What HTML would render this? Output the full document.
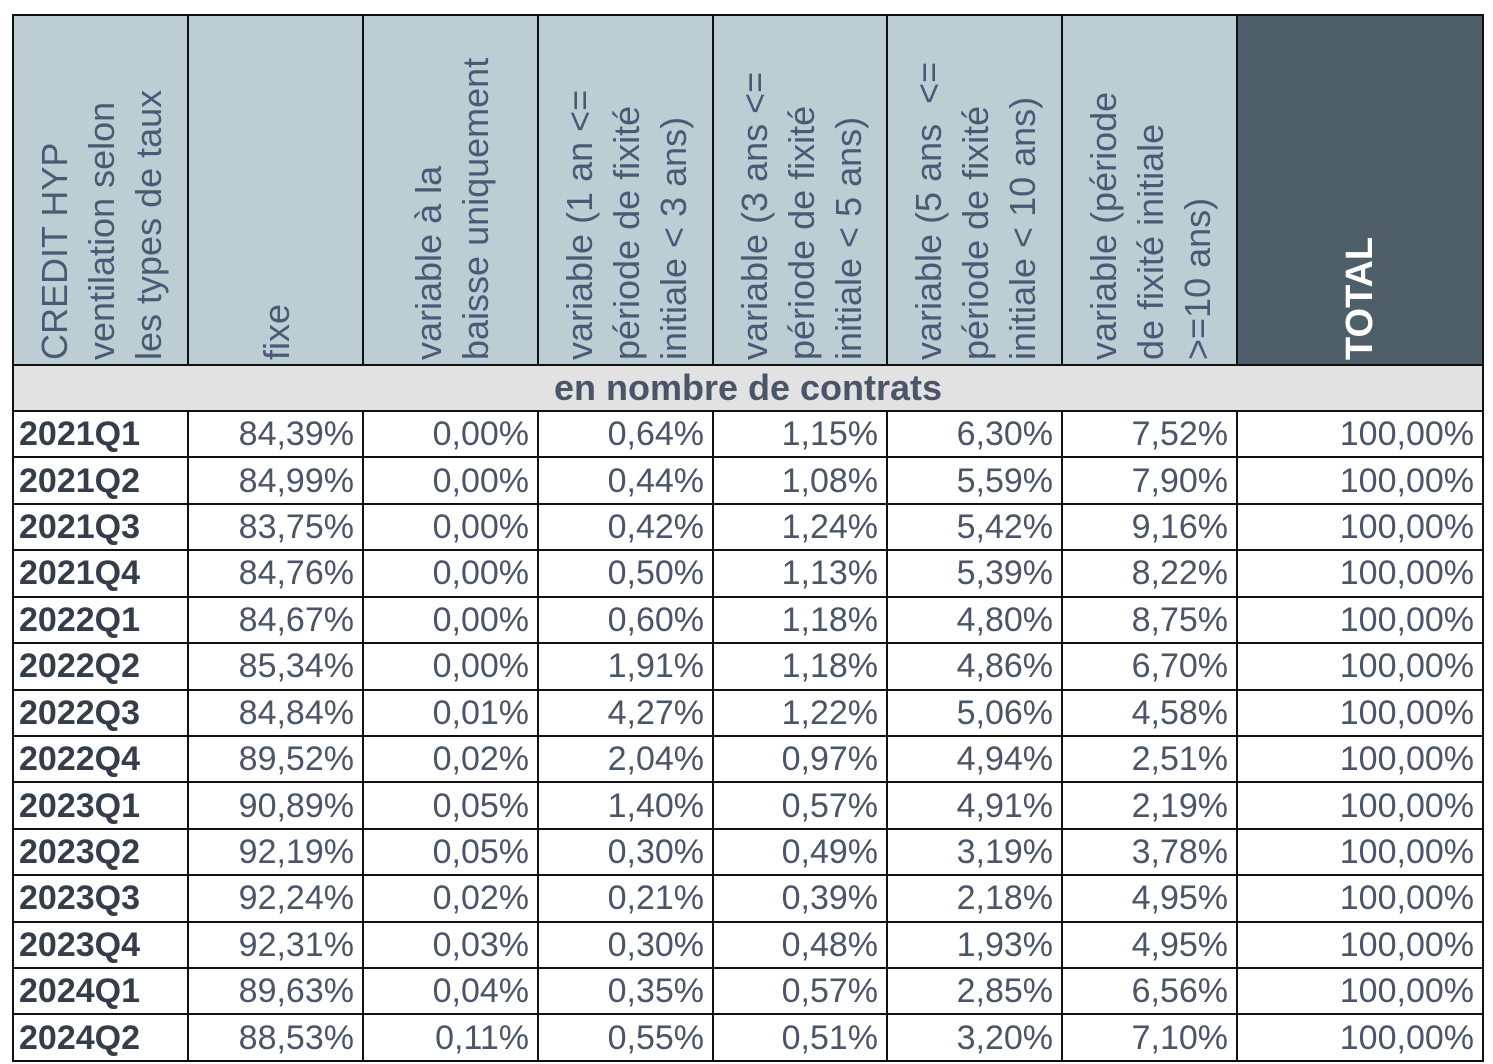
<!DOCTYPE html>
<html><head><meta charset="utf-8"><style>
body{margin:0;background:#fff;width:1493px;height:1064px;overflow:hidden;font-family:"Liberation Sans",Arial,sans-serif;}
table{position:absolute;left:12px;top:14px;border-collapse:collapse;table-layout:fixed;width:1470px;}
td{border:2.5px solid #111;padding:0;box-sizing:border-box;}
tr.h td{height:350px;background:#bccdd4;position:relative;}
tr.h td.tot{background:#4f5f6a;}
.r{position:absolute;left:0;top:350px;width:344px;height:175px;transform-origin:0 0;transform:rotate(-90deg);display:flex;flex-direction:column;justify-content:center;padding-left:6px;box-sizing:border-box;font-size:36px;line-height:47px;color:#4a5a74;white-space:nowrap;}
.tot .r{height:245px;color:#fff;font-weight:bold;font-size:38px;}
tr.s td{height:46px;background:#e2e2e2;text-align:center;font-weight:bold;font-size:36px;color:#4a5568;}
tr.d td{height:46.43px;text-align:right;padding-right:8px;font-size:34px;color:#4a5568;line-height:40px;}
tr.d td:first-child{text-align:left;padding-left:5px;font-weight:bold;color:#363d4a;}
</style></head><body>
<table>
<colgroup><col style="width:175px"><col style="width:175px"><col style="width:175px"><col style="width:175px"><col style="width:174px"><col style="width:175px"><col style="width:175px"><col style="width:246px"></colgroup>
<tr class="h">
<td><div class="r"><div>CREDIT HYP</div><div>ventilation selon</div><div>les types de taux</div></div></td>
<td><div class="r"><div>fixe</div></div></td>
<td><div class="r"><div>variable à la</div><div>baisse uniquement</div></div></td>
<td><div class="r"><div>variable (1 an &lt;=</div><div>période de fixité</div><div>initiale &lt; 3 ans)</div></div></td>
<td><div class="r"><div>variable (3 ans &lt;=</div><div>période de fixité</div><div>initiale &lt; 5 ans)</div></div></td>
<td><div class="r"><div>variable (5 ans &nbsp;&lt;=</div><div>période de fixité</div><div>initiale &lt; 10 ans)</div></div></td>
<td><div class="r"><div>variable (période</div><div>de fixité initiale</div><div>&gt;=10 ans)</div></div></td>
<td class="tot"><div class="r"><div>TOTAL</div></div></td>
</tr>
<tr class="s"><td colspan="8">en nombre de contrats</td></tr>
<tr class="d"><td>2021Q1</td><td>84,39%</td><td>0,00%</td><td>0,64%</td><td>1,15%</td><td>6,30%</td><td>7,52%</td><td>100,00%</td></tr>
<tr class="d"><td>2021Q2</td><td>84,99%</td><td>0,00%</td><td>0,44%</td><td>1,08%</td><td>5,59%</td><td>7,90%</td><td>100,00%</td></tr>
<tr class="d"><td>2021Q3</td><td>83,75%</td><td>0,00%</td><td>0,42%</td><td>1,24%</td><td>5,42%</td><td>9,16%</td><td>100,00%</td></tr>
<tr class="d"><td>2021Q4</td><td>84,76%</td><td>0,00%</td><td>0,50%</td><td>1,13%</td><td>5,39%</td><td>8,22%</td><td>100,00%</td></tr>
<tr class="d"><td>2022Q1</td><td>84,67%</td><td>0,00%</td><td>0,60%</td><td>1,18%</td><td>4,80%</td><td>8,75%</td><td>100,00%</td></tr>
<tr class="d"><td>2022Q2</td><td>85,34%</td><td>0,00%</td><td>1,91%</td><td>1,18%</td><td>4,86%</td><td>6,70%</td><td>100,00%</td></tr>
<tr class="d"><td>2022Q3</td><td>84,84%</td><td>0,01%</td><td>4,27%</td><td>1,22%</td><td>5,06%</td><td>4,58%</td><td>100,00%</td></tr>
<tr class="d"><td>2022Q4</td><td>89,52%</td><td>0,02%</td><td>2,04%</td><td>0,97%</td><td>4,94%</td><td>2,51%</td><td>100,00%</td></tr>
<tr class="d"><td>2023Q1</td><td>90,89%</td><td>0,05%</td><td>1,40%</td><td>0,57%</td><td>4,91%</td><td>2,19%</td><td>100,00%</td></tr>
<tr class="d"><td>2023Q2</td><td>92,19%</td><td>0,05%</td><td>0,30%</td><td>0,49%</td><td>3,19%</td><td>3,78%</td><td>100,00%</td></tr>
<tr class="d"><td>2023Q3</td><td>92,24%</td><td>0,02%</td><td>0,21%</td><td>0,39%</td><td>2,18%</td><td>4,95%</td><td>100,00%</td></tr>
<tr class="d"><td>2023Q4</td><td>92,31%</td><td>0,03%</td><td>0,30%</td><td>0,48%</td><td>1,93%</td><td>4,95%</td><td>100,00%</td></tr>
<tr class="d"><td>2024Q1</td><td>89,63%</td><td>0,04%</td><td>0,35%</td><td>0,57%</td><td>2,85%</td><td>6,56%</td><td>100,00%</td></tr>
<tr class="d"><td>2024Q2</td><td>88,53%</td><td>0,11%</td><td>0,55%</td><td>0,51%</td><td>3,20%</td><td>7,10%</td><td>100,00%</td></tr>
</table>
</body></html>
